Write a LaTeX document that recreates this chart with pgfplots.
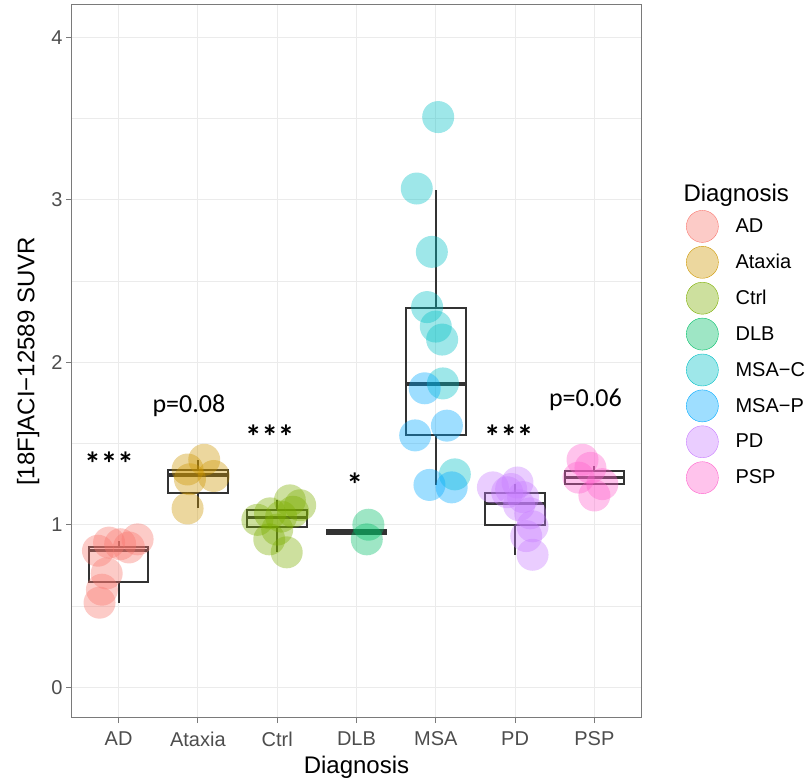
\documentclass[border=0pt]{standalone}
\usepackage{pgfplots}
\pgfplotsset{compat=1.18}
\usepgfplotslibrary{statistics}
\usepackage{fontspec}
\setmainfont{Liberation Sans}
\newfontfamily\calfont{Carlito}
\definecolor{cAD}{HTML}{F8766D}
\definecolor{cAT}{HTML}{CD9600}
\definecolor{cCT}{HTML}{7CAE00}
\definecolor{cDL}{HTML}{00BE67}
\definecolor{cMC}{HTML}{00BFC4}
\definecolor{cMP}{HTML}{00A9FF}
\definecolor{cPD}{HTML}{C77CFF}
\definecolor{cPS}{HTML}{FF61CC}
\definecolor{gridc}{HTML}{EBEBEB}
\definecolor{borderc}{HTML}{7A7A7A}
\definecolor{labc}{HTML}{4D4D4D}
\definecolor{boxc}{HTML}{333333}
\pgfplotsset{
  pts/.style={only marks, mark=*, mark size=16pt, forget plot, mark options={draw opacity=0, fill=#1, fill opacity=0.38}},
  bx/.style={draw=boxc, line width=2pt, forget plot, boxplot/draw direction=y,
    boxplot/every box/.style={draw=boxc, line width=2pt},
    boxplot/every whisker/.style={draw=boxc, line width=2pt},
    boxplot/every median/.style={draw=boxc, line width=3.4pt}},
  leg/.style={legend image code/.code={\fill[#1, fill opacity=0.38] (0pt,0pt) circle (16pt); \path (31pt,0pt);}},
}
\begin{document}
\begin{tikzpicture}[x=1pt,y=1pt]
\useasboundingbox (0,0) rectangle (809,782);
\begin{axis}[
  at={(71pt,64pt)}, anchor=south west, scale only axis,
  width=571pt, height=713pt,
  xmin=-0.6, xmax=6.6, ymin=-0.19, ymax=4.2,
  clip=false,
  xtick={0,1,2,3,4,5,6},
  xticklabels={AD,Ataxia,Ctrl,DLB,MSA,PD,PSP},
  ytick={0,1,2,3,4},
  minor ytick={0.5,1.5,2.5,3.5},
  tick pos=left,
  grid=both,
  major grid style={line width=1pt, color=gridc},
  minor grid style={line width=0.5pt, color=gridc},
  tick align=outside, major tick length=5pt, minor tick length=0pt,
  tick style={line width=1pt, color=borderc},
  axis line style={line width=1pt, color=borderc},
  ticklabel style={font=\fontsize{20}{24}\selectfont, text=labc},
  xticklabel style={yshift=-5pt},
  /pgf/number format/assume math mode=true,
  xlabel={Diagnosis}, ylabel={[18F]ACI−12589 SUVR},
  label style={font=\fontsize{24}{28}\selectfont},
  xlabel style={yshift=-3pt},
  ylabel style={yshift=5pt},
  legend style={at={(1.077,0.7125)}, anchor=north west, draw=none, fill=none,
    font=\fontsize{20}{24}\selectfont, row sep=3.5pt, inner sep=0pt},
  legend cell align=left,
]
% boxplots
\addplot[bx, boxplot prepared={draw position=0, lower whisker=0.52, lower quartile=0.65, median=0.84, upper quartile=0.86, upper whisker=0.90, box extend=0.75, whisker extend=0}] coordinates {};
\addplot[bx, boxplot prepared={draw position=1, lower whisker=1.10, lower quartile=1.195, median=1.305, upper quartile=1.34, upper whisker=1.40, box extend=0.75, whisker extend=0}] coordinates {};
\addplot[bx, boxplot prepared={draw position=2, lower whisker=0.83, lower quartile=0.985, median=1.045, upper quartile=1.09, upper whisker=1.15, box extend=0.75, whisker extend=0}] coordinates {};
\addplot[bx, boxplot prepared={draw position=3, lower whisker=0.94, lower quartile=0.94, median=0.952, upper quartile=0.965, upper whisker=0.965, box extend=0.75, whisker extend=0}] coordinates {};
\addplot[bx, boxplot prepared={draw position=4, lower whisker=1.245, lower quartile=1.553, median=1.867, upper quartile=2.335, upper whisker=3.06, box extend=0.75, whisker extend=0}] coordinates {};
\addplot[bx, boxplot prepared={draw position=5, lower whisker=0.815, lower quartile=1.00, median=1.13, upper quartile=1.195, upper whisker=1.25, box extend=0.75, whisker extend=0}] coordinates {};
\addplot[bx, boxplot prepared={draw position=6, lower whisker=1.245, lower quartile=1.25, median=1.29, upper quartile=1.33, upper whisker=1.36, box extend=0.75, whisker extend=0}] coordinates {};
% points
\addplot[pts=cAD] coordinates {(-0.24,0.52) (-0.21,0.60) (-0.15,0.70) (-0.26,0.84) (-0.12,0.89) (0.02,0.88) (0.13,0.86) (0.24,0.91)};
\addplot[pts=cAT] coordinates {(1.08,1.40) (0.87,1.34) (0.90,1.28) (1.20,1.30) (0.87,1.10)};
\addplot[pts=cCT] coordinates {(2.16,1.15) (2.29,1.12) (1.91,1.07) (1.75,1.03) (2.05,1.05) (1.90,0.91) (2.12,0.83) (2.00,0.97) (2.20,1.08)};
\addplot[pts=cDL] coordinates {(3.15,1.00) (3.13,0.91)};
\addplot[pts=cMC] coordinates {(4.03,3.51) (3.76,3.07) (3.95,2.68) (3.89,2.34) (4.00,2.22) (4.08,2.14) (4.09,1.87) (4.24,1.31)};
\addplot[pts=cMP] coordinates {(3.86,1.84) (4.14,1.61) (3.74,1.55) (3.92,1.245) (4.20,1.23)};
\addplot[pts=cPD] coordinates {(4.72,1.23) (5.03,1.26) (5.10,1.17) (5.19,1.07) (5.22,0.99) (4.90,1.20) (5.05,1.12) (5.14,0.93) (5.22,0.815) (4.95,1.22)};
\addplot[pts=cPS] coordinates {(5.85,1.40) (5.80,1.29) (6.00,1.18) (6.10,1.25) (5.95,1.35)};
% legend
\addlegendimage{leg=cAD}\addlegendentry{AD}
\addlegendimage{leg=cAT}\addlegendentry{Ataxia}
\addlegendimage{leg=cCT}\addlegendentry{Ctrl}
\addlegendimage{leg=cDL}\addlegendentry{DLB}
\addlegendimage{leg=cMC}\addlegendentry{MSA−C}
\addlegendimage{leg=cMP}\addlegendentry{MSA−P}
\addlegendimage{leg=cPD}\addlegendentry{PD}
\addlegendimage{leg=cPS}\addlegendentry{PSP}
% annotations
\node[font=\calfont\bfseries\fontsize{33}{36}\selectfont, anchor=base] at (axis cs:-0.12,1.30) {***};
\node[font=\calfont\fontsize{26}{30}\selectfont, anchor=base] at (axis cs:0.887,1.688) {p=0.08};
\node[font=\calfont\bfseries\fontsize{33}{36}\selectfont, anchor=base] at (axis cs:1.906,1.47) {***};
\node[font=\calfont\bfseries\fontsize{33}{36}\selectfont, anchor=base] at (axis cs:2.98,1.175) {*};
\node[font=\calfont\bfseries\fontsize{33}{36}\selectfont, anchor=base] at (axis cs:4.92,1.47) {***};
\node[font=\calfont\fontsize{26}{30}\selectfont, anchor=base] at (axis cs:5.887,1.725) {p=0.06};
\node[font=\fontsize{24}{28}\selectfont, anchor=west] at (rel axis cs:1.0665,0.7335) {Diagnosis};
\end{axis}
\end{tikzpicture}
\end{document}
